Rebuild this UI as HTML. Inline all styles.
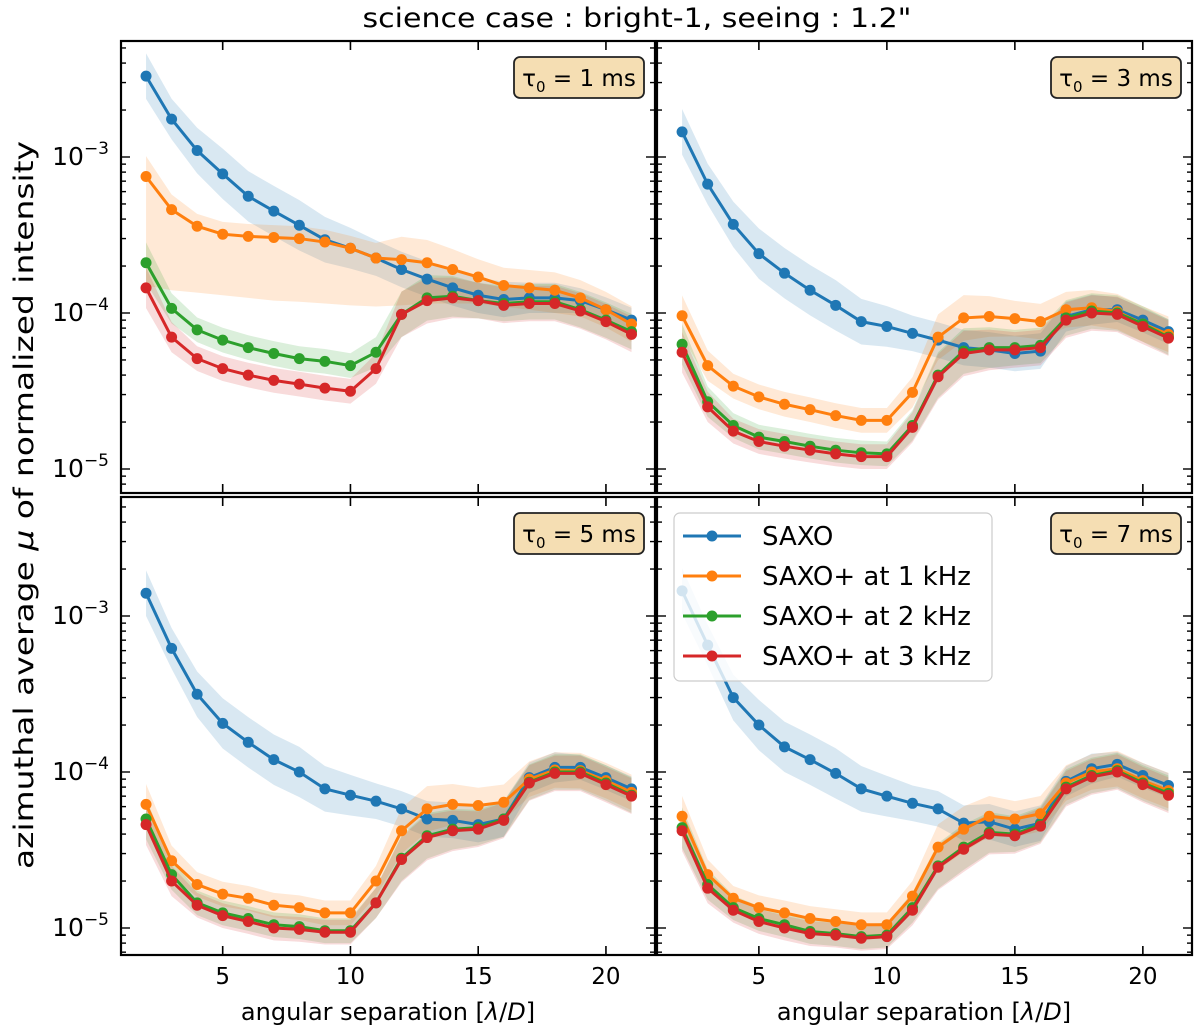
<!DOCTYPE html>
<html><head><meta charset="utf-8">
<style>
html,body{margin:0;padding:0;background:#fff;}
svg{display:block;font-family:"DejaVu Sans","Liberation Sans",sans-serif;}
</style></head>
<body>
<svg id="fig" width="1200" height="1033" viewBox="0 0 1200 1033" xmlns="http://www.w3.org/2000/svg">
<text x="637" y="27" font-size="27" text-anchor="middle" textLength="549" lengthAdjust="spacingAndGlyphs">science case : bright-1, seeing : 1.2"</text>
<text x="0" y="0" font-size="27" text-anchor="middle" textLength="728" lengthAdjust="spacingAndGlyphs" transform="translate(33,505) rotate(-90)">azimuthal average <tspan font-style="italic">μ</tspan> of normalized intensity</text>
<text x="388" y="1020" font-size="24" text-anchor="middle">angular separation [<tspan font-style="italic">λ</tspan>/<tspan font-style="italic">D</tspan>]</text>
<text x="924" y="1020" font-size="24" text-anchor="middle">angular separation [<tspan font-style="italic">λ</tspan>/<tspan font-style="italic">D</tspan>]</text>
</svg>
<script>
const separations=[2,3,4,5,6,7,8,9,10,11,12,13,14,15,16,17,18,19,20,21];
const seriesNames=["SAXO","SAXO+ at 1 kHz","SAXO+ at 2 kHz","SAXO+ at 3 kHz"];
const tauLabels=["1","3","5","7"];
const xTicks=[5,10,15,20];
const yTickExps=[-3,-4,-5];
// tau = 1 ms
const t1Saxo=[3.3e-3,1.75e-3,1.1e-3,7.8e-4,5.6e-4,4.5e-4,3.65e-4,2.95e-4,2.6e-4,2.25e-4,1.9e-4,1.65e-4,1.45e-4,1.3e-4,1.22e-4,1.25e-4,1.25e-4,1.2e-4,1.05e-4,9e-5];
const t1K1=[7.5e-4,4.6e-4,3.6e-4,3.2e-4,3.1e-4,3.05e-4,3.0e-4,2.85e-4,2.6e-4,2.25e-4,2.2e-4,2.1e-4,1.9e-4,1.7e-4,1.5e-4,1.45e-4,1.4e-4,1.25e-4,1.05e-4,8.5e-5];
const t1K2=[2.1e-4,1.07e-4,7.8e-5,6.7e-5,6.0e-5,5.5e-5,5.1e-5,4.9e-5,4.6e-5,5.6e-5,9.8e-5,1.25e-4,1.28e-4,1.2e-4,1.15e-4,1.18e-4,1.18e-4,1.05e-4,9e-5,7.6e-5];
const t1K3=[1.45e-4,7.0e-5,5.1e-5,4.4e-5,4.0e-5,3.7e-5,3.5e-5,3.3e-5,3.15e-5,4.4e-5,9.8e-5,1.2e-4,1.25e-4,1.2e-4,1.12e-4,1.15e-4,1.15e-4,1.03e-4,8.8e-5,7.3e-5];
// tau = 3 ms
const t3Saxo=[1.45e-3,6.7e-4,3.7e-4,2.4e-4,1.8e-4,1.4e-4,1.12e-4,8.8e-5,8.2e-5,7.4e-5,6.7e-5,6.0e-5,5.8e-5,5.5e-5,5.7e-5,9.5e-5,1.05e-4,1.05e-4,9e-5,7.6e-5];
const t3K1=[9.6e-5,4.6e-5,3.4e-5,2.9e-5,2.6e-5,2.4e-5,2.2e-5,2.05e-5,2.05e-5,3.1e-5,7e-5,9.3e-5,9.5e-5,9.2e-5,8.8e-5,1.05e-4,1.08e-4,1.02e-4,8.5e-5,7.3e-5];
const t3K2=[6.3e-5,2.7e-5,1.9e-5,1.6e-5,1.5e-5,1.4e-5,1.32e-5,1.27e-5,1.25e-5,1.9e-5,4.0e-5,5.7e-5,6.0e-5,6.0e-5,6.2e-5,9.3e-5,1.03e-4,1.0e-4,8.5e-5,7.0e-5];
const t3K3=[5.6e-5,2.5e-5,1.75e-5,1.5e-5,1.4e-5,1.32e-5,1.25e-5,1.2e-5,1.2e-5,1.85e-5,3.9e-5,5.5e-5,5.8e-5,5.8e-5,6.0e-5,9.0e-5,1.0e-4,9.8e-5,8.2e-5,6.9e-5];
// tau = 5 ms
const t5Saxo=[1.4e-3,6.2e-4,3.15e-4,2.05e-4,1.55e-4,1.2e-4,1.0e-4,7.8e-5,7.1e-5,6.5e-5,5.8e-5,5.0e-5,4.9e-5,4.6e-5,5.0e-5,9.2e-5,1.07e-4,1.07e-4,9.2e-5,7.8e-5];
const t5K1=[6.2e-5,2.7e-5,1.9e-5,1.65e-5,1.55e-5,1.4e-5,1.35e-5,1.25e-5,1.25e-5,2.0e-5,4.2e-5,5.8e-5,6.2e-5,6.1e-5,6.4e-5,9.0e-5,1.03e-4,1.02e-4,8.8e-5,7.4e-5];
const t5K2=[5.0e-5,2.2e-5,1.45e-5,1.25e-5,1.15e-5,1.05e-5,1.02e-5,9.6e-6,9.6e-6,1.45e-5,2.8e-5,3.9e-5,4.3e-5,4.4e-5,5.0e-5,8.6e-5,1.0e-4,1.0e-4,8.5e-5,7.1e-5];
const t5K3=[4.6e-5,2.0e-5,1.4e-5,1.2e-5,1.1e-5,1.0e-5,9.8e-6,9.4e-6,9.4e-6,1.45e-5,2.75e-5,3.8e-5,4.2e-5,4.3e-5,4.9e-5,8.5e-5,9.8e-5,9.8e-5,8.3e-5,7.0e-5];
// tau = 7 ms
const t7Saxo=[1.45e-3,6.5e-4,3.0e-4,2.0e-4,1.45e-4,1.2e-4,9.8e-5,7.8e-5,7.0e-5,6.3e-5,5.8e-5,4.7e-5,4.8e-5,4.3e-5,4.7e-5,8.7e-5,1.05e-4,1.12e-4,9.5e-5,8.2e-5];
const t7K1=[5.2e-5,2.2e-5,1.55e-5,1.35e-5,1.25e-5,1.15e-5,1.1e-5,1.05e-5,1.05e-5,1.6e-5,3.3e-5,4.3e-5,5.2e-5,5.0e-5,5.4e-5,8.5e-5,1.0e-4,1.05e-4,8.8e-5,7.6e-5];
const t7K2=[4.4e-5,1.9e-5,1.35e-5,1.15e-5,1.05e-5,9.5e-6,9.2e-6,8.8e-6,9e-6,1.35e-5,2.5e-5,3.3e-5,4.1e-5,4.0e-5,4.6e-5,8.0e-5,9.5e-5,1.02e-4,8.5e-5,7.3e-5];
const t7K3=[4.2e-5,1.8e-5,1.3e-5,1.1e-5,1.0e-5,9.2e-6,9.0e-6,8.6e-6,8.8e-6,1.3e-5,2.45e-5,3.2e-5,4.0e-5,3.9e-5,4.5e-5,7.8e-5,9.3e-5,1.0e-4,8.3e-5,7.1e-5];
// band half-width (multiplicative factor) per series
const bandSaxo=[1.4,1.35,1.4,1.45,1.45,1.45,1.45,1.4,1.35,1.3,1.3,1.3,1.3,1.3,1.3,1.25,1.25,1.2,1.2,1.2];
const bandPlus=[1.35,1.25,1.2,1.2,1.2,1.2,1.2,1.2,1.2,1.25,1.4,1.4,1.35,1.3,1.3,1.3,1.3,1.3,1.3,1.3];
// tau = 1 ms, 1 kHz band lower edge
const t1K1Low=[1.5e-4,1.4e-4,1.35e-4,1.3e-4,1.25e-4,1.2e-4,1.18e-4,1.15e-4,1.12e-4,1.1e-4,1.12e-4,1.15e-4,1.15e-4,1.15e-4,1.1e-4,1.05e-4,1.0e-4,9.5e-5,8.5e-5,7e-5];

const panelData=[[t1Saxo,t1K1,t1K2,t1K3],[t3Saxo,t3K1,t3K2,t3K3],[t5Saxo,t5K1,t5K2,t5K3],[t7Saxo,t7K1,t7K2,t7K3]];
const colors=["#1f77b4","#ff7f0e","#2ca02c","#d62728"];
const NS="http://www.w3.org/2000/svg";
const svg=document.getElementById("fig");
const panels=[
 {x0:121,x1:655,y0:41,y1:493,ref:157,left:true,bottom:false},
 {x0:657,x1:1192,y0:41,y1:493,ref:157,left:false,bottom:false},
 {x0:121,x1:655,y0:497,y1:955,ref:616,left:true,bottom:true},
 {x0:657,x1:1192,y0:497,y1:955,ref:616,left:false,bottom:true}];
const DEC=156;
function mk(tag,attrs,parent){const e=document.createElementNS(NS,tag);for(const k in attrs)e.setAttribute(k,attrs[k]);(parent||svg).appendChild(e);return e;}

panels.forEach((p,pi)=>{
 const xs=v=>p.x0+(v-1.02)/(21.92-1.02)*(p.x1-p.x0);
 const ys=v=>p.ref-(Math.log10(v)+3)*DEC;
 const g=mk("g",{});
 
 
 const cid="clip"+pi;
 const cp=mk("clipPath",{id:cid},g);mk("rect",{x:p.x0,y:p.y0,width:p.x1-p.x0,height:p.y1-p.y0},cp);
 const plot=mk("g",{"clip-path":"url(#"+cid+")"},g);
 const data=panelData[pi];
 data.forEach((vals,si)=>{
  const band=si===0?bandSaxo:bandPlus;
  let up=separations.map((s,i)=>xs(s)+","+ys(vals[i]*band[i]));
  let lo=separations.map((s,i)=>{
    const low=(pi===0&&si===1)?Math.min(t1K1Low[i],vals[i]/band[i]):vals[i]/band[i];
    return xs(s)+","+ys(low);}).reverse();
  const b=mk("polygon",{points:up.concat(lo).join(" "),fill:colors[si],"fill-opacity":0.17},plot);
  
  
 });
 data.forEach((vals,si)=>{
  const l=mk("polyline",{points:separations.map((s,i)=>xs(s)+","+ys(vals[i])).join(" "),fill:"none",stroke:colors[si],"stroke-width":3},plot);
  
  
  separations.forEach((s,i)=>{
   const c=mk("circle",{cx:xs(s),cy:ys(vals[i]),r:5.5,fill:colors[si]},plot);
   
   
  });
 });
 const fr=mk("rect",{x:p.x0,y:p.y0,width:p.x1-p.x0,height:p.y1-p.y0,fill:"none",stroke:"#000","stroke-width":2.2},g);
 
 
 xTicks.forEach(t=>{
  const x=xs(t);
  mk("line",{x1:x,x2:x,y1:p.y1,y2:p.y1-9,stroke:"#000","stroke-width":1.6},g);
  mk("line",{x1:x,x2:x,y1:p.y0,y2:p.y0+9,stroke:"#000","stroke-width":1.6},g);
  if(p.bottom){const t2=mk("text",{x:x,y:p.y1+29,"font-size":23,"text-anchor":"middle"},g);t2.textContent=t;
   
   }
 });
 for(let e=-6;e<=-2;e++){
  for(let m=1;m<10;m++){
   const y=ys(m*Math.pow(10,e));
   if(y<p.y0+1||y>p.y1-1)continue;
   const len=m===1?9:5;
   mk("line",{x1:p.x0,x2:p.x0+len,y1:y,y2:y,stroke:"#000","stroke-width":1.4},g);
   mk("line",{x1:p.x1,x2:p.x1-len,y1:y,y2:y,stroke:"#000","stroke-width":1.4},g);
  }
 }
 if(p.left){yTickExps.forEach(e=>{
  const y=ys(Math.pow(10,e));
  const t=mk("text",{x:p.x0-12,y:y+8,"font-size":25,"text-anchor":"end"},g);
  t.innerHTML='10<tspan dy="-11" font-size="17">'+(e<0?'−':'')+Math.abs(e)+'</tspan>';
  
  
 });}
 const bx=p.x1-141,by=p.y0+16;
 const bg=mk("g",{},g);
 
 
 mk("rect",{x:bx,y:by,width:130,height:41,rx:6,fill:"#f5deb3",stroke:"#222","stroke-width":1.8},bg);
 const tt=mk("text",{x:bx+65,y:by+29,"font-size":23,"text-anchor":"middle"},bg);
 tt.innerHTML='τ<tspan dy="6" font-size="15">0</tspan><tspan dy="-6"> = '+tauLabels[pi]+' ms</tspan>';
});
const lg=mk("g",{});


mk("rect",{x:674,y:513,width:318,height:168,rx:6,fill:"#fff","fill-opacity":0.8,stroke:"#ccc","stroke-width":1.2},lg);
seriesNames.forEach((n,i)=>{
 const y=536+i*40;
 const e=mk("g",{},lg);
 
 
 mk("line",{x1:683,x2:741,y1:y,y2:y,stroke:colors[i],"stroke-width":3},e);
 mk("circle",{cx:712,cy:y,r:5.5,fill:colors[i]},e);
 const t=mk("text",{x:762,y:y+9,"font-size":26},e);t.textContent=n;
});
</script>
</body></html>
